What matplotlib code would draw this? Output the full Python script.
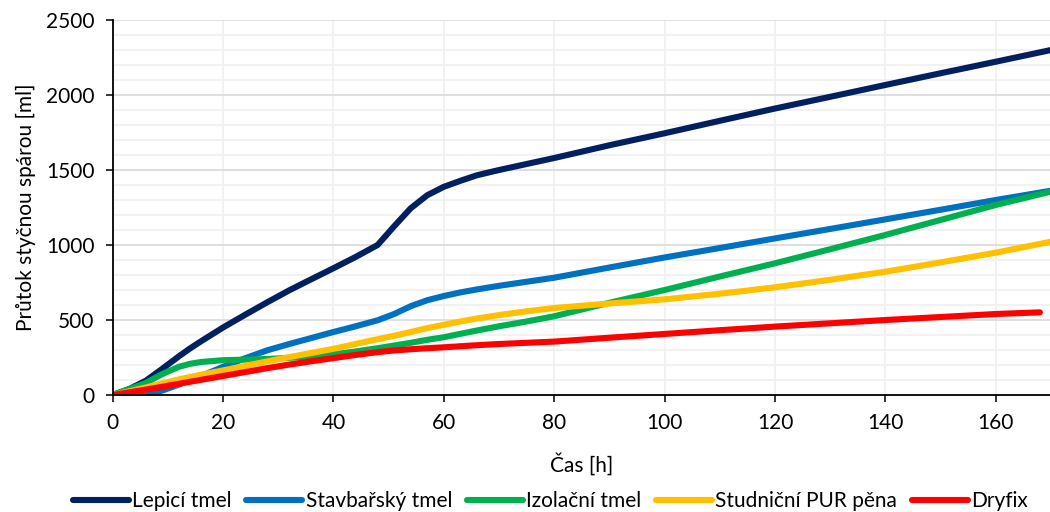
import matplotlib
matplotlib.use("Agg")
import matplotlib.pyplot as plt
from matplotlib.ticker import MultipleLocator

plt.rcParams['font.family'] = ['Lato', 'DejaVu Sans']

# time readings [h]
cas = [0, 3, 6, 9, 12, 14, 16, 20, 24, 28, 32, 36, 40, 44, 48, 51, 54, 57, 60,
       63, 66, 70, 75, 80, 90, 100, 110, 120, 130, 140, 150, 160, 170]

# flow through the joint [ml]
lepici = [0, 40, 95, 175, 258, 310, 358, 450, 535, 618, 698, 772, 845, 920, 1000,
          1125, 1245, 1332, 1388, 1428, 1465, 1500, 1540, 1580, 1665, 1745,
          1828, 1910, 1988, 2067, 2145, 2222, 2300]
stavbarsky = [0, -8, -3, 30, 70, 98, 126, 188, 245, 298, 340, 380, 420, 458, 498,
              540, 592, 632, 660, 684, 704, 728, 755, 782, 850, 917, 980,
              1044, 1107, 1171, 1235, 1300, 1362]
izolacni = [0, 40, 80, 140, 188, 208, 220, 232, 236, 240, 248, 258, 271, 290, 312,
            330, 348, 368, 385, 408, 430, 458, 490, 525, 615, 700, 790, 878,
            972, 1067, 1167, 1267, 1356]
studnicni = [0, 25, 50, 78, 104, 120, 135, 164, 194, 224, 253, 280, 308, 340, 372,
             395, 420, 446, 468, 490, 510, 533, 558, 580, 610, 638, 675, 718,
             768, 822, 884, 949, 1022]

cas_dryfix = [0, 3, 6, 9, 12, 16, 20, 24, 28, 32, 36, 40, 44, 48, 51, 54, 57,
              60, 63, 66, 70, 75, 80, 90, 100, 110, 120, 130, 140, 150, 160, 168]
dryfix = [0, 18, 36, 55, 75, 101, 127, 153, 179, 203, 225, 246, 267, 286, 297,
          305, 312, 318, 325, 332, 340, 348, 356, 382, 407, 432, 456, 478, 500,
          520, 540, 551]

fig = plt.figure(figsize=(10.5, 5.12), dpi=100)
ax = fig.add_axes([0.1073, 0.2285, 0.8936, 0.7324])

lw = 4.4
ax.plot(cas, lepici, color='#002060', lw=lw, solid_capstyle='round', label='Lepicí tmel')
ax.plot(cas, stavbarsky, color='#0070C0', lw=lw, solid_capstyle='round', label='Stavbařský tmel')
ax.plot(cas, izolacni, color='#00B050', lw=lw, solid_capstyle='round', label='Izolační tmel')
ax.plot(cas, studnicni, color='#FFC000', lw=lw, solid_capstyle='round', label='Studniční PUR pěna')
ax.plot(cas_dryfix, dryfix, color='#FF0000', lw=lw, solid_capstyle='round', label='Dryfix')

ax.set_xlim(0, 170)
ax.set_ylim(0, 2500)
ax.xaxis.set_major_locator(MultipleLocator(20))
ax.yaxis.set_major_locator(MultipleLocator(500))
ax.yaxis.set_minor_locator(MultipleLocator(100))

ax.grid(axis='y', which='major', color='#d9d9d9', lw=1.2)
ax.grid(axis='y', which='minor', color='#f0f0f0', lw=1.2)
ax.grid(axis='x', which='major', color='#f0f0f0', lw=1.2)
ax.set_axisbelow(True)

for s in ['top', 'right']:
    ax.spines[s].set_visible(False)
for s in ['left', 'bottom']:
    ax.spines[s].set_linewidth(1.3)
ax.tick_params(which='major', length=5, width=1.1, labelsize=15, pad=8)
ax.tick_params(which='minor', length=0)

ax.set_xlabel('Čas [h]', fontsize=15, labelpad=14)
ax.set_ylabel('Průtok styčnou spárou [ml]', fontsize=15, labelpad=7)

fig.legend(loc='center', bbox_to_anchor=(0.524, 0.021), ncol=5, frameon=False,
           fontsize=15, handlelength=2.7, handletextpad=0.15, columnspacing=0.7,
           borderaxespad=0, borderpad=0)

fig.savefig('out.png', dpi=100)
